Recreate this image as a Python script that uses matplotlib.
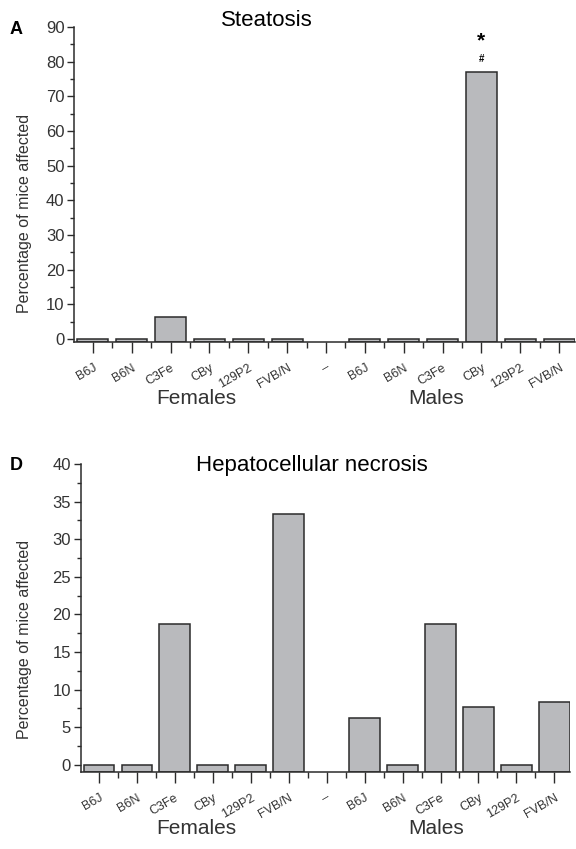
import numpy as np
import matplotlib
matplotlib.use("Agg")
import matplotlib.pyplot as plt
from matplotlib.ticker import MultipleLocator

plt.rcParams['font.family'] = ['Liberation Sans', 'DejaVu Sans']

# strain labels (the "–" slot separates females and males, no bar)
strains = ["B6J", "B6N", "C3Fe", "CBy", "129P2", "FVB/N", "–",
           "B6J", "B6N", "C3Fe", "CBy", "129P2", "FVB/N"]

# percentage of mice affected
steatosis = [0, 0, 6.25, 0, 0, 0, np.nan, 0, 0, 0, 77.0, 0, 0]
necrosis = [0, 0, 18.75, 0, 0, 33.3, np.nan, 6.25, 0, 18.75, 7.7, 0, 8.33]

groups = ["Females", "Males"]

bar_color = "#b9babd"
edge_color = "#2b2b2b"
text_color = "#333333"

fig = plt.figure(figsize=(5.76, 8.49), dpi=100)


def panel(rect, values, ymax, major, minor, title, title_xy, letter, letter_y,
          group_y, ylab_xy):
    ax = fig.add_axes(rect)
    x = np.arange(len(strains))
    vals = np.array(values, dtype=float)
    mask = ~np.isnan(vals)
    # bars start at the bottom of the axis like in the original
    ax.bar(x[mask], vals[mask] + 1, bottom=-1, width=0.8,
           color=bar_color, edgecolor=edge_color, linewidth=1.1)
    ax.set_xlim(-0.48, len(strains) - 0.59)
    ax.set_ylim(-1, ymax)
    for s in ["top", "right"]:
        ax.spines[s].set_visible(False)
    for s in ["left", "bottom"]:
        ax.spines[s].set_color(edge_color)
        ax.spines[s].set_linewidth(1.1)
    ax.yaxis.set_major_locator(MultipleLocator(major))
    ax.yaxis.set_minor_locator(MultipleLocator(minor))
    ax.tick_params(axis="y", which="major", length=5, width=1, colors=edge_color,
                   labelsize=12, labelcolor=text_color, pad=2)
    ax.tick_params(axis="y", which="minor", length=3, width=1, colors=edge_color)
    ax.set_xticks(x)
    ax.set_xticks(x[:-1] + 0.5, minor=True)
    ax.set_xticklabels(strains, rotation=30, ha="right", rotation_mode="anchor",
                       fontsize=9, color=text_color)
    ax.tick_params(axis="x", which="major", length=8, width=1, colors=edge_color,
                   labelcolor=text_color, pad=6)
    ax.tick_params(axis="x", which="minor", length=4, width=1, colors=edge_color)
    ax.set_ylabel("Percentage of mice affected", fontsize=11.5, color=text_color)
    ax.yaxis.set_label_coords(*ylab_xy)
    fig.text(title_xy[0] / 576, 1 - title_xy[1] / 849, title, fontsize=16,
             ha="center", va="center", color="black")
    fig.text(10 / 576, 1 - letter_y / 849, letter, fontsize=13, fontweight="bold",
             ha="left", va="center")
    fig.text(196 / 576, 1 - group_y / 849, groups[0], fontsize=15,
             ha="center", va="center", color=text_color)
    fig.text(436 / 576, 1 - group_y / 849, groups[1], fontsize=15,
             ha="center", va="center", color=text_color)
    return ax


axA = panel([74.3 / 576, 1 - 342.3 / 849, (575 - 74.3) / 576, (342.3 - 27) / 849],
            steatosis, 90, 10, 5, "Steatosis", (267, 20), "A", 29, 399,
            (-0.085, 0.41))
# significance marks above the male CBy bar
axA.text(10, 86, "*", ha="center", va="center", fontsize=15, fontweight="bold")
axA.text(10, 80.8, "#", ha="center", va="center", fontsize=7, fontweight="bold")

axD = panel([80.5 / 576, 1 - 772.3 / 849, (570 - 80.5) / 576, (772.3 - 464) / 849],
            necrosis, 40, 5, 2.5, "Hepatocellular necrosis", (312, 466), "D", 466,
            829, (-0.100, 0.43))

fig.savefig("out.png", dpi=100)
